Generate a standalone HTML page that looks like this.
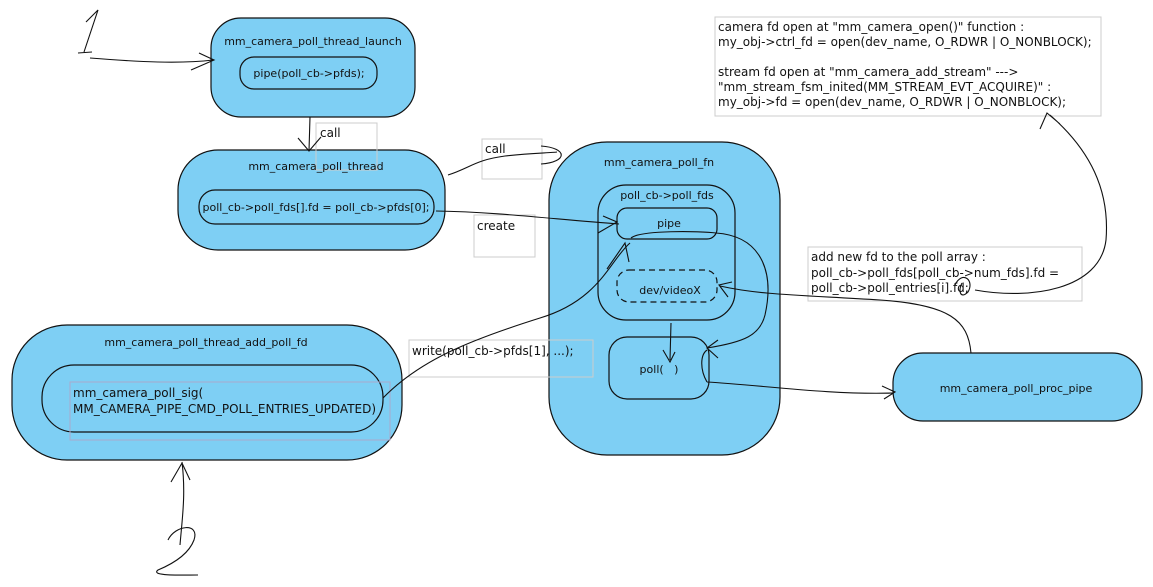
<!DOCTYPE html>
<html><head><meta charset="utf-8"><style>
html,body{margin:0;padding:0;background:#fff;width:1153px;height:587px;overflow:hidden}
svg{display:block}
text{font-family:"DejaVu Sans","Liberation Sans",sans-serif;fill:#111}
.t{font-size:11px}
.b{font-size:12px}
</style></head><body>
<svg width="1153" height="587" viewBox="0 0 1153 587" xmlns="http://www.w3.org/2000/svg">
<g fill="#7ecff4" stroke="#111" stroke-width="1.2">
<rect x="211" y="18" width="204" height="99" rx="30"/>
<rect x="240" y="57" width="137" height="32" rx="14"/>
<rect x="178" y="150" width="267" height="100" rx="40"/>
<rect x="199" y="190" width="235" height="34" rx="16"/>
<rect x="549" y="142" width="231" height="313" rx="58"/>
<rect x="598" y="185" width="137" height="135" rx="28"/>
<rect x="617" y="208" width="100" height="31" rx="10"/>
<rect x="617" y="270" width="100" height="32" rx="12" stroke-dasharray="6,4"/>
<rect x="609" y="337" width="100" height="62" rx="18"/>
<rect x="893" y="353" width="249" height="68" rx="30"/>
<rect x="12" y="325" width="390" height="135" rx="55"/>
<rect x="42" y="365" width="341" height="67" rx="32"/>
</g>
<g fill="none" stroke="#ccc" stroke-width="1">
<rect x="316" y="123" width="61" height="47"/>
<rect x="482" y="139" width="60" height="40"/>
<rect x="474" y="215" width="61" height="42"/>
<rect x="715" y="17" width="386" height="99"/>
<rect x="808" y="247" width="274" height="54"/>
<rect x="409" y="340" width="184" height="37"/>
<rect x="70" y="382" width="320" height="58" stroke="#aac"/>
</g>
<text class="t" x="313" y="45" text-anchor="middle">mm_camera_poll_thread_launch</text>
<text class="t" x="309" y="77" text-anchor="middle">pipe(poll_cb-&gt;pfds);</text>
<text class="t" x="316" y="170" text-anchor="middle">mm_camera_poll_thread</text>
<text class="t" x="316" y="211" text-anchor="middle">poll_cb-&gt;poll_fds[].fd = poll_cb-&gt;pfds[0];</text>
<text class="b" x="320" y="137">call</text>
<text class="b" x="485" y="153">call</text>
<text class="b" x="477" y="230">create</text>
<text class="t" x="659" y="166" text-anchor="middle">mm_camera_poll_fn</text>
<text class="t" x="667" y="199" text-anchor="middle">poll_cb-&gt;poll_fds</text>
<text class="t" x="669" y="227" text-anchor="middle">pipe</text>
<text class="t" x="670" y="294" text-anchor="middle">dev/videoX</text>
<text class="t" x="659" y="373" text-anchor="middle">poll(&#160;&#160;&#160;)</text>
<text class="t" x="1016" y="392" text-anchor="middle">mm_camera_poll_proc_pipe</text>
<text class="t" x="206" y="346" text-anchor="middle">mm_camera_poll_thread_add_poll_fd</text>
<text class="b" x="73" y="397">mm_camera_poll_sig(</text>
<text class="b" x="73" y="413">MM_CAMERA_PIPE_CMD_POLL_ENTRIES_UPDATED)</text>
<text class="b" x="412" y="355">write(poll_cb-&gt;pfds[1], ...);</text>
<text class="b" x="811" y="261">add new fd to the poll array :</text>
<text class="b" x="811" y="277">poll_cb-&gt;poll_fds[poll_cb-&gt;num_fds].fd =</text>
<text class="b" x="811" y="292">poll_cb-&gt;poll_entries[i].fd;</text>
<text class="b" x="718" y="31">camera fd open at "mm_camera_open()" function :</text>
<text class="b" x="718" y="46">my_obj-&gt;ctrl_fd = open(dev_name, O_RDWR | O_NONBLOCK);</text>
<text class="b" x="718" y="76">stream fd open at "mm_camera_add_stream" ---&gt;</text>
<text class="b" x="718" y="91">"mm_stream_fsm_inited(MM_STREAM_EVT_ACQUIRE)" :</text>
<text class="b" x="718" y="106">my_obj-&gt;fd = open(dev_name, O_RDWR | O_NONBLOCK);</text>
<g fill="none" stroke="#111" stroke-width="1.1">
<!-- handwritten 1 -->
<path d="M86 22 L98 10 L84 52 M78 53 L92 52"/>
<path d="M90 58 C140 62 180 64 213 60 M199 53 L214 60 L191 70"/>
<!-- handwritten 2 -->
<path d="M168 540 C175 525 200 522 194 540 C188 556 170 565 158 570 C150 576 178 575 198 575"/>
<path d="M180 545 C182 520 186 495 182 462 M171 482 L182 463 L190 480"/>
<!-- launch -> thread -->
<path d="M310 117 L309 151 M298 138 L309 151 L321 137"/>
<!-- thread -> fn call -->
<path d="M448 175 C470 168 475 160 505 156 C530 153 550 153 557 152 M541 146 C568 148 568 162 541 164"/>
<!-- create -->
<path d="M436 211 C500 212 560 220 619 224 M603 216 L617 222 L598 233"/>
<!-- write -> pipe -->
<path d="M383 398 C420 360 470 340 540 318 C600 300 610 260 630 243 M607 269 L625 243 L629 262"/>
<!-- pipe -> poll -->
<path d="M631 238 C640 230 700 231 716 233 C760 236 775 270 765 315 C760 335 745 342 707 348 M718 340 L707 348 L718 358"/>
<path d="M671 323 L670 360 M663 350 L670 362 L675 352"/>
<!-- poll -> proc -->
<path d="M707 382 C700 370 700 355 707 350 M707 382 C760 385 830 395 893 393 M882 386 L895 392 L884 399"/>
<!-- proc -> dev/videoX -->
<path d="M971 353 C968 320 950 305 880 300 C800 295 760 295 720 286 M732 282 L719 285 L728 297"/>
<!-- fd -> top text -->
<path d="M955 285 C962 270 975 280 968 292 C960 300 958 290 962 283 M975 290 C1030 300 1100 290 1106 240 C1110 190 1090 150 1050 115 M1040 129 L1047 113 L1060 124"/>
</g>
</svg>
</body></html>
